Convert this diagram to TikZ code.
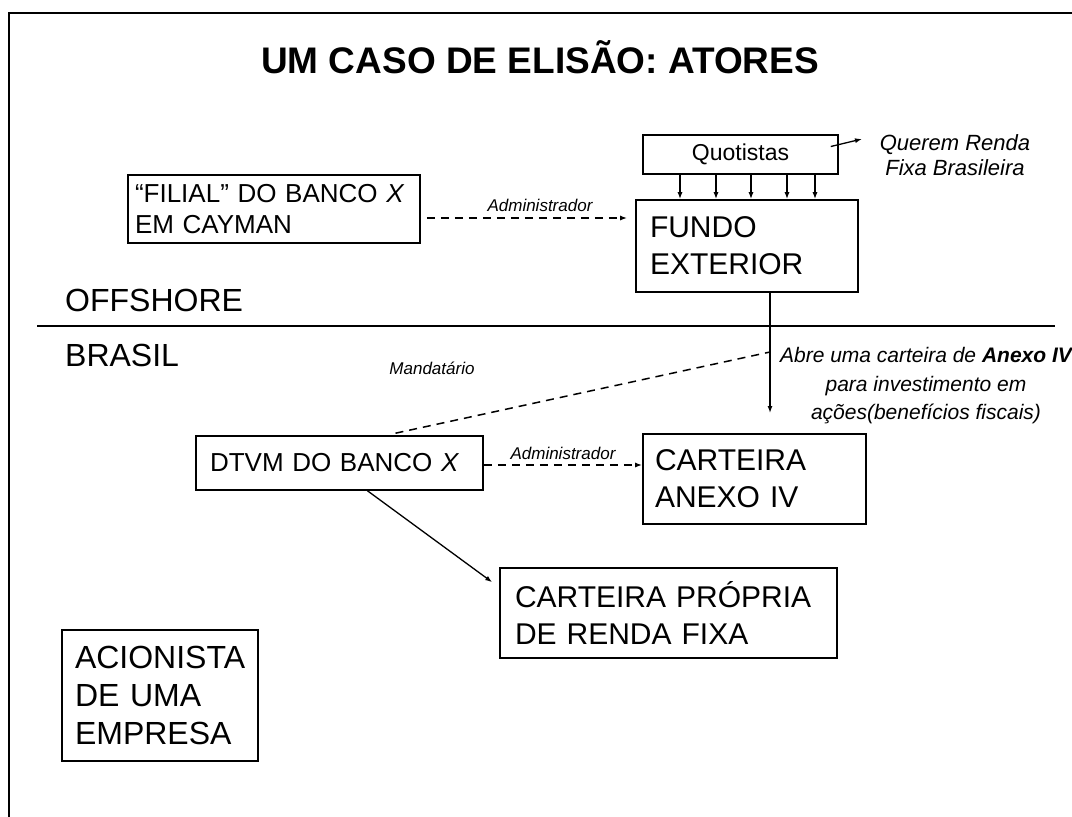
\documentclass[tikz,border=0pt]{standalone}
\usepackage{fontspec}
\setmainfont{Liberation Sans}
\usetikzlibrary{arrows.meta,calc,positioning}
\newcommand{\boxline}{1.6pt}
\newcommand{\titletext}{\fontsize{37}{44}\selectfont\bfseries}
\newcommand{\bigtext}{\fontsize{30}{37}\selectfont}
\newcommand{\sidetext}{\fontsize{32}{38}\selectfont}
\newcommand{\midtext}{\fontsize{26}{31}\selectfont}
\newcommand{\dtvmtext}{\fontsize{26}{31}\selectfont}
\newcommand{\quottext}{\fontsize{23}{27}\selectfont}
\newcommand{\notetext}{\fontsize{22}{25}\selectfont\itshape}
\newcommand{\abretext}{\fontsize{21}{28.5}\selectfont\itshape}
\newcommand{\labeltext}{\fontsize{17}{20}\selectfont\itshape}
\tikzset{
  actorbox/.style={draw, line width=\boxline, align=left, inner sep=0pt},
  tip/.style={-{Latex[length=7pt,width=5pt]}},
  dashline/.style={line width=1.5pt, dash pattern=on 8pt off 6pt},
}

\begin{document}
\begin{tikzpicture}[x=1pt,y=-1pt]
\useasboundingbox (0,0) rectangle (1072,817);
\draw[line width=2pt] (9,817) -- (9,13) -- (1072,13);
\node[font=\titletext] (titulo) at (540,57) {UM CASO DE ELISÃO: ATORES};
%offshore
\node[actorbox, align=center, font=\quottext, minimum width=195pt, minimum height=39pt] (quot) at (740.5,154.5) {Quotistas};
\node[actorbox, font=\bigtext, minimum width=222pt, minimum height=92pt, text width=194pt] (fundo) at (747,246) {FUNDO\\EXTERIOR};
\node[actorbox, font=\midtext, minimum width=292pt, minimum height=68pt, text width=278pt] (filial) at (274,209) {“FILIAL” DO BANCO \textit{X}\\EM CAYMAN};
\node[align=center, font=\notetext] (querem) at (955,155) {Querem Renda\\Fixa Brasileira};
\node[anchor=west, inner sep=0pt, font=\sidetext] (offshore) at (65,300) {OFFSHORE};
\draw[line width=\boxline] (37,326) -- (1055,326);
%brasil
\node[anchor=west, inner sep=0pt, font=\sidetext] (brasil) at (65,355) {BRASIL};
\node[actorbox, font=\dtvmtext, minimum width=287pt, minimum height=54pt, text width=259pt] (dtvm) at (339.5,463) {DTVM DO BANCO \textit{X}};
\node[actorbox, font=\bigtext, minimum width=223pt, minimum height=90pt, text width=199pt] (anexo) at (754.5,479) {CARTEIRA\\ANEXO IV};
\node[actorbox, font=\bigtext, minimum width=337pt, minimum height=90pt, text width=307pt] (propria) at (668.5,613) {CARTEIRA PRÓPRIA\\DE RENDA FIXA};
\node[actorbox, font=\sidetext, minimum width=196pt, minimum height=131pt, text width=170pt] (acion) at (160,695.5) {ACIONISTA\\DE UMA\\EMPRESA};
\node[align=center, font=\abretext] (abre) at (926,386) {Abre uma carteira de \textbf{Anexo IV}\\para investimento em\\ações(benefícios fiscais)};
\node[font=\labeltext] (adm1) at (540,205) {Administrador};
\node[font=\labeltext] (adm2) at (563,453) {Administrador};
\node[font=\labeltext] (mand) at (432,368) {Mandatário};
\coordinate (qtip) at (862,139);
\coordinate (abretip) at (770,413);
\coordinate (mtop) at (770,352);
%connectors
\foreach \x in {680,716,751,787,815}
  \draw[tip, line width=1.3pt] (quot.south -| \x,0) -- (fundo.north -| \x,0);
\draw[tip, line width=1.3pt] ($(quot.east)+(-8,-8)$) -- (qtip);
\draw[dashline, tip] ($(filial.east)+(6,9)$) -- ($(filial.east -| fundo.west)+(-8,9)$);
\draw[tip, line width=1.3pt] (fundo.south -| abretip) -- (abretip);
\draw[dashline] ($(dtvm.north)+(56,-2)$) -- (mtop);
\path (dtvm.east) ++(0,2) coordinate (d1);
\draw[dashline, tip] (d1) -- (d1 -| anexo.west);
\draw[tip, line width=1.3pt] ($(dtvm.south)+(28,0)$) -- ($(propria.north west)+(-7,15)$);
\end{tikzpicture}
\end{document}
